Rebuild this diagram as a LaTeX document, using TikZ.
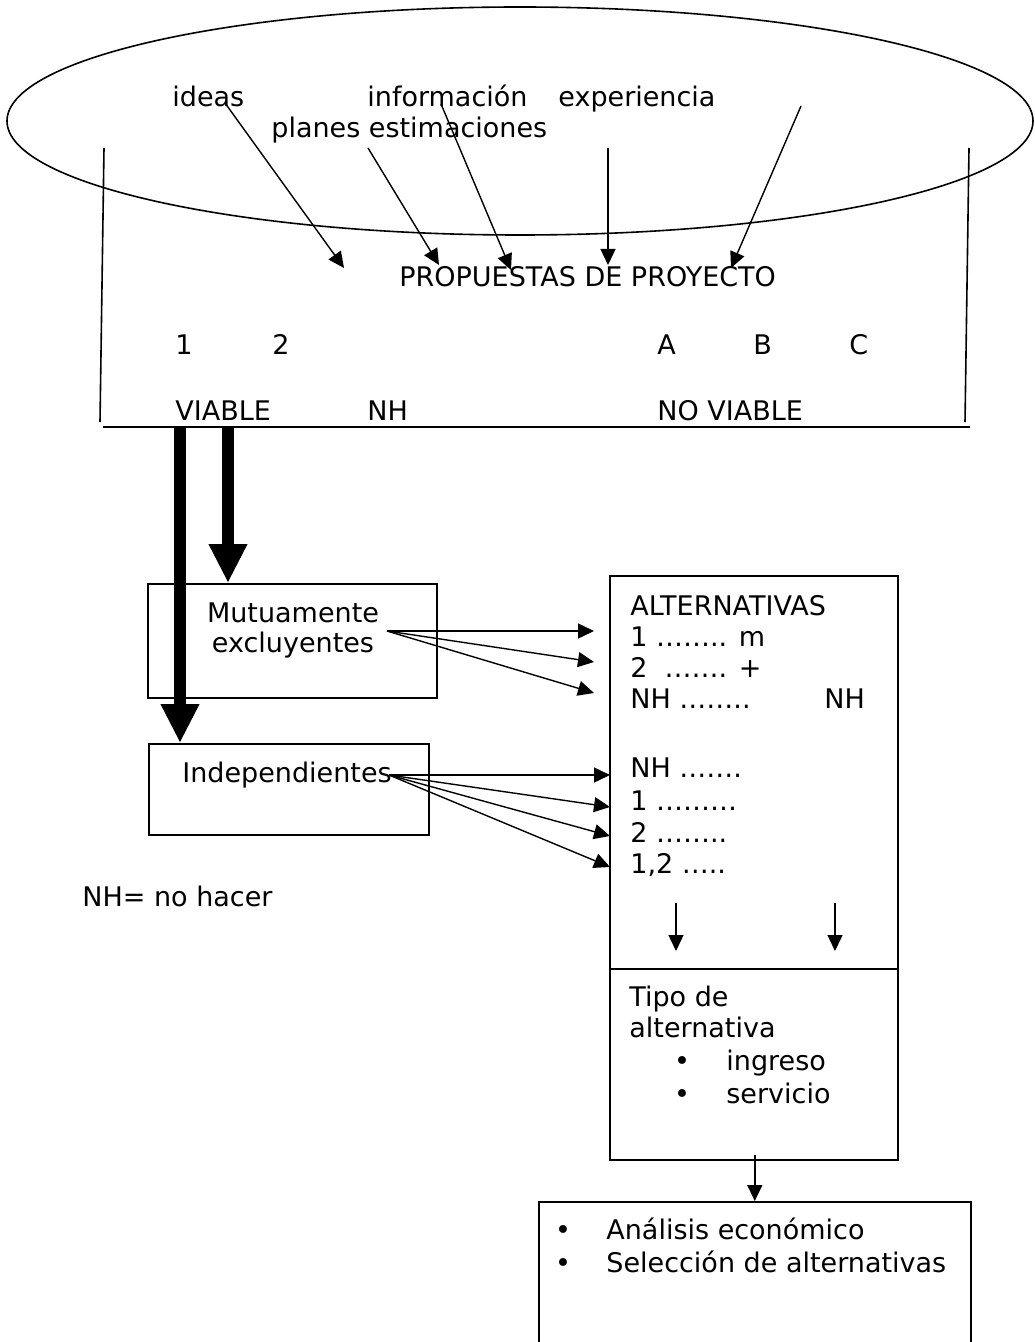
\documentclass[tikz,border=0pt]{standalone}
\usepackage{fontspec}
\setmainfont{DejaVu Sans}
\usetikzlibrary{arrows.meta, shapes.geometric}
\tikzset{>={Triangle[length=8pt,width=7.5pt]}}
\tikzset{
  caja/.style={draw, line width=0.8pt, rectangle, inner sep=0pt, anchor=north west},
  texto/.style={anchor=base west, inner sep=0pt},
  centrado/.style={anchor=base, inner sep=0pt},
  flecha/.style={->, line width=0.7pt},
  gruesa/.style={-{Triangle[length=19.5pt,width=18pt]}, line width=5.75pt}
}

\begin{document}
\begin{tikzpicture}[x=0.5pt, y=-0.5pt, font=\fontsize{13.5}{15.5}\selectfont]
            \clip (0,0) rectangle (1034,1342);
            \node[ellipse, draw, line width=0.8pt, inner sep=0pt, minimum width=513pt, minimum height=114pt] (fuente) at (520,121) {};
            \node[texto] (ideas) at (172,107) {ideas};
            \node[texto] (info) at (367,107) {información};
            \node[texto] (exper) at (558,107) {experiencia};
            \node[texto] (planes) at (271,138) {planes estimaciones};
            \node[texto] (propuestas) at (399,287) {PROPUESTAS DE PROYECTO};
            \coordinate (s1) at (225,103);
            \coordinate (s2) at (368,148);
            \coordinate (s3) at (441,104);
            \coordinate (s4) at (608,148);
            \coordinate (s5) at (801,106);
            \coordinate (t1) at (344,268);
            \coordinate (t2) at (439,265);
            \coordinate (t3) at (511,270);
            \coordinate (t4) at (608,265);
            \coordinate (t5) at (731,268);
            \draw[flecha] (s1) -- (t1);
            \draw[flecha] (s2) -- (t2);
            \draw[flecha] (s3) -- (t3);
            \draw[flecha] (s4) -- (t4);
            \draw[flecha] (s5) -- (t5);
            \draw[line width=0.8pt] (104,148) -- (100,422);
            \draw[line width=0.8pt] (969,148) -- (965,422);
            \draw[line width=0.8pt] (103,427) -- (970,427);
            \node[texto] (p1) at (175,355) {1};
            \node[texto] (p2) at (272,355) {2};
            \node[texto] (pa) at (657,355) {A};
            \node[texto] (pb) at (753,355) {B};
            \node[texto] (pc) at (849,355) {C};
            \node[texto] (viable) at (175,420) {VIABLE};
            \node[texto] (nh) at (367,420) {NH};
            \node[texto] (noviable) at (657,420) {NO VIABLE};
            \node[caja, minimum width=144.5pt, minimum height=57pt] (mutua) at (147,583) {};
            \node[centrado] (mutuatxt) at (293,622) {Mutuamente};
            \node[centrado] (exclutxt) at (293,652) {excluyentes};
            \node[caja, minimum width=140pt, minimum height=45.5pt] (indep) at (148,743) {};
            \node[centrado] (indeptxt) at (287,782) {Independientes};
            \coordinate (v1) at (180,427);
            \coordinate (v2) at (228,427);
            \draw[gruesa] (v1) -- (v1 |- indep.north);
            \draw[gruesa] (v2) -- (v2 |- mutua.north);
            \node[texto] (nota) at (82,906) {NH= no hacer};
            \node[caja, minimum width=144pt, minimum height=196.5pt] (alt) at (609,575) {};
            \node[caja, minimum width=144pt, minimum height=95.5pt] (tipo) at (609,968) {};
            \node[texto] (alt0) at (630,615) {ALTERNATIVAS};
            \node[texto] (alt1) at (630,646) {1 …….. m};
            \node[texto] (alt2) at (630,677) {2\ \ ……. +};
            \node[texto] (alt3) at (630,708) {NH ……..};
            \node[texto] (altnh) at (824,708) {NH};
            \node[texto] (alt4) at (630,777) {NH …….};
            \node[texto] (alt5) at (630,810) {1 ………};
            \node[texto] (alt6) at (630,842) {2 ……..};
            \node[texto] (alt7) at (630,873) {1,2 …..};
            \coordinate (me) at (387,631);
            \coordinate (m1) at (594,631);
            \coordinate (m2) at (594,662);
            \coordinate (m3) at (594,693);
            \draw[flecha] (me) -- (m1);
            \draw[flecha] (me) -- (m2);
            \draw[flecha] (me) -- (m3);
            \coordinate (ie) at (389,775);
            \coordinate (i1) at (610,775);
            \coordinate (i2) at (610,807);
            \coordinate (i3) at (610,836);
            \coordinate (i4) at (610,867);
            \draw[flecha] (ie) -- (i1);
            \draw[flecha] (ie) -- (i2);
            \draw[flecha] (ie) -- (i3);
            \draw[flecha] (ie) -- (i4);
            \coordinate (d1) at (676,903);
            \coordinate (d2) at (835,903);
            \draw[flecha] (d1) -- ++(0,48);
            \draw[flecha] (d2) -- ++(0,48);
            \node[texto] (tipo1) at (629,1006) {Tipo de};
            \node[texto] (tipo2) at (629,1037) {alternativa};
            \node[centrado] (b1) at (682,1070) {•};
            \node[texto] (ingreso) at (726,1070) {ingreso};
            \node[centrado] (b2) at (682,1103) {•};
            \node[texto] (servicio) at (726,1103) {servicio};
            \node[caja, minimum width=216pt, minimum height=100pt] (analisis) at (538,1201) {};
            \draw[flecha] ([yshift=3pt]analisis.north |- tipo.south) -- (analisis.north);
            \node[centrado] (b3) at (563,1239) {•};
            \node[texto] (econ) at (606,1239) {Análisis económico};
            \node[centrado] (b4) at (563,1272) {•};
            \node[texto] (selec) at (606,1272) {Selección de alternativas};
        \end{tikzpicture}
\end{document}
